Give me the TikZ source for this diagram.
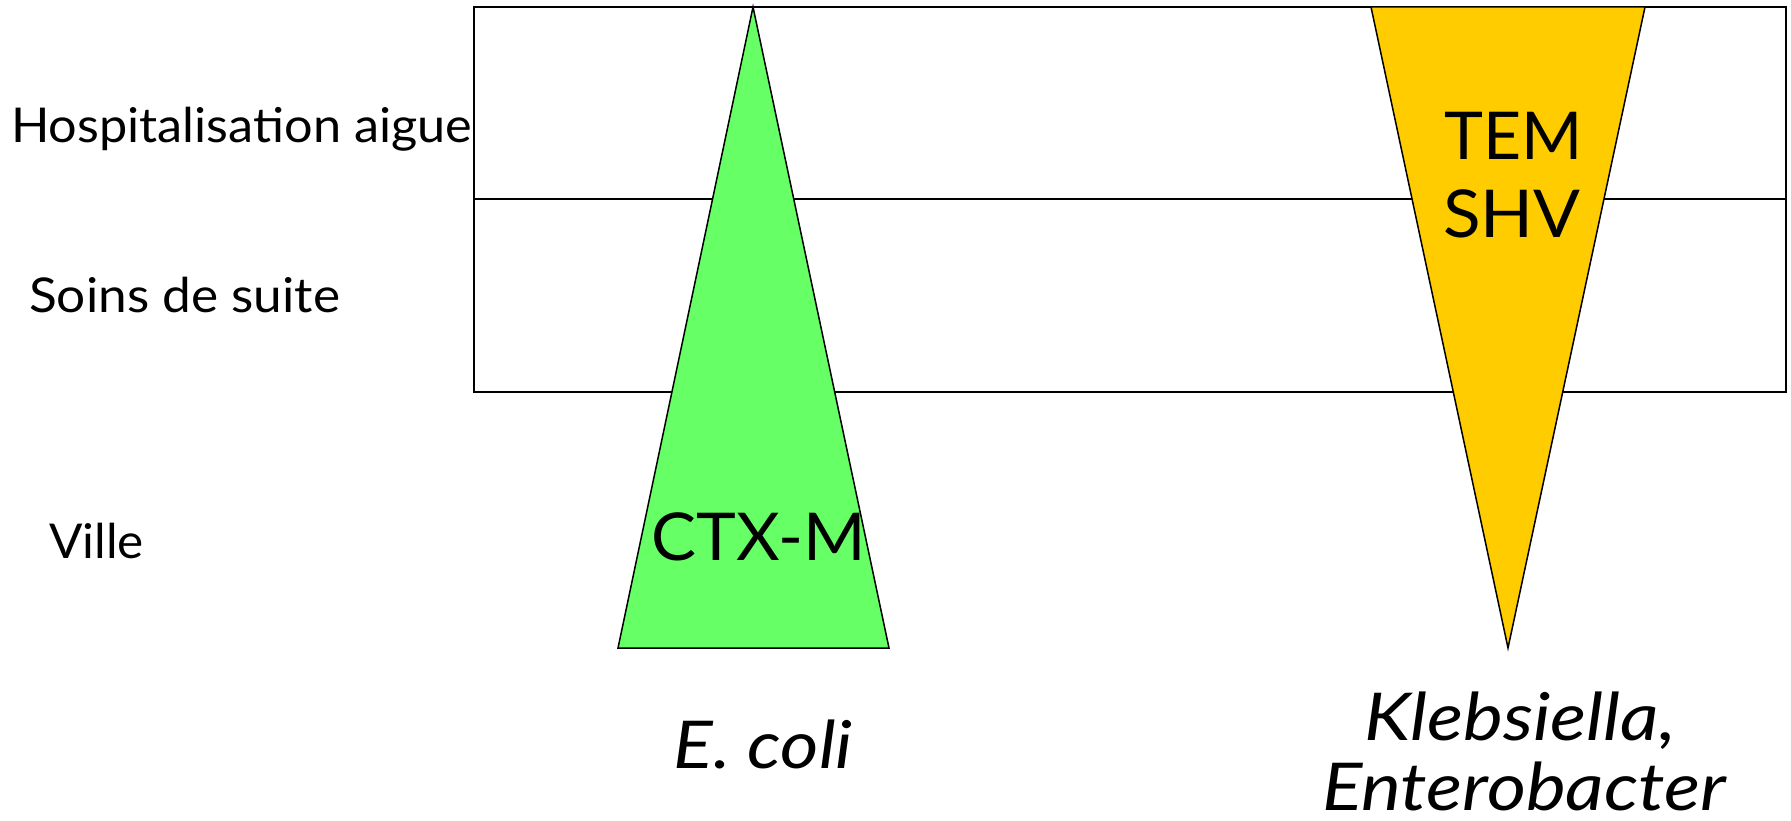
\documentclass[tikz,border=0pt]{standalone}
\usepackage{fontspec}
\setmainfont{Lato}
\definecolor{ecoligreen}{HTML}{66FF66}
\definecolor{klebyellow}{HTML}{FFCC00}
\begin{document}
\begin{tikzpicture}[x=1pt,y=-1pt,
  frame/.style={draw=black,line width=2pt},
  tri/.style={draw=black,line width=1.5pt,line join=miter},
  rowlabel/.style={anchor=base west,inner sep=0pt,font=\fontsize{48}{56}\selectfont},
  enzyme/.style={anchor=base,inner sep=0pt,font=\fontsize{66}{76}\selectfont},
  species/.style={anchor=base,inner sep=0pt,font=\fontsize{66}{76}\selectfont\itshape}]
\useasboundingbox (0,0) rectangle (1791,821);
% frame with two rows
\coordinate (tl) at (474,7);
\coordinate (br) at (1786,392);
\draw[frame] (tl) rectangle (br);
\coordinate (ml) at (474,199);
\coordinate (mr) at (1786,199);
\draw[frame] (ml) -- (mr);
% green triangle (apex up)
\coordinate (ga) at (753,7);
\coordinate (gl) at (618,648);
\coordinate (gr) at (889,648);
\filldraw[tri,fill=ecoligreen] (ga) -- (gr) -- (gl) -- cycle;
% yellow triangle (apex down)
\coordinate (yl) at (1371,7);
\coordinate (yr) at (1645,7);
\coordinate (ya) at (1508,648);
\filldraw[tri,fill=klebyellow] (yl) -- (yr) -- (ya) -- cycle;
% row labels
\node[rowlabel] (hosp) at (11,143) {\scalebox{1.05}[1]{Hospitalisation aigue}};
\node[rowlabel] (soins) at (29,312) {\scalebox{1.07}[1]{Soins de suite}};
\node[rowlabel] (ville) at (49,558) {\scalebox{1.03}[1]{Ville}};
% enzymes
\node[enzyme] (ctx) at (759,560) {\scalebox{1.02}[1]{CTX-M}};
\node[enzyme] (tem) at (1514,160) {TEM};
\node[enzyme] (shv) at (1512,237) {\scalebox{1.05}[1]{SHV}};
% species
\node[species] (ecoli) at (763,768) {\scalebox{1.12}[1]{E. coli}};
\node[species] (kleb) at (1520,740) {\scalebox{1.14}[1]{Klebsiella,}};
\node[species] (entero) at (1524,810) {\scalebox{1.14}[1]{Enterobacter}};
\end{tikzpicture}
\end{document}
